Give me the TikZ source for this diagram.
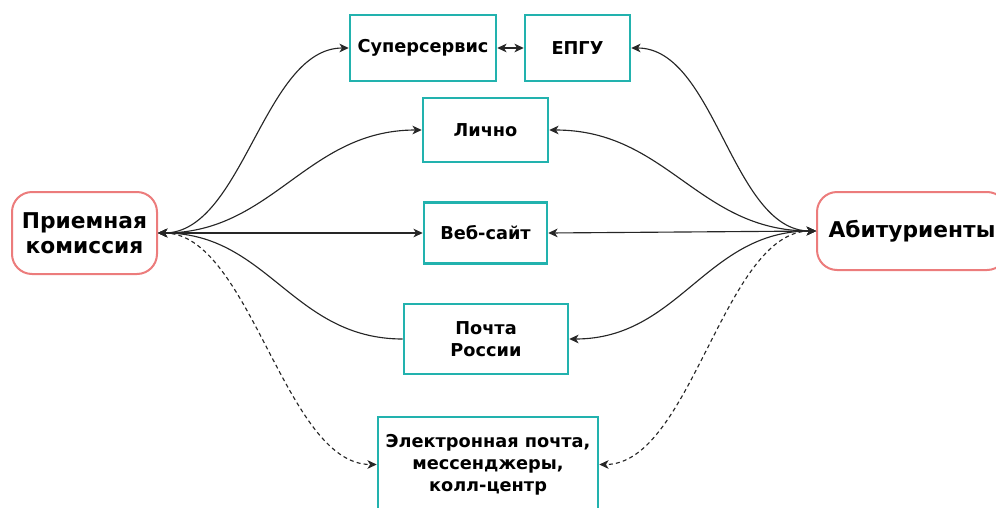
\documentclass[tikz,border=0pt]{standalone}
\usepackage{fontspec}
\setmainfont{DejaVu Sans}
\usetikzlibrary{arrows.meta}
\definecolor{tealbox}{RGB}{34,178,174}
\definecolor{redbox}{RGB}{236,124,124}
\tikzset{
  chan/.style={draw=tealbox, line width=1.9pt, fill=white, inner sep=0pt, align=center,
    font=\fontsize{13.3}{16.5}\selectfont\bfseries},
  actor/.style={draw=redbox, line width=1.5pt, rounded corners=15pt, fill=white, inner sep=0pt,
    align=center, font=\fontsize{16.3}{19}\selectfont\bfseries},
  conn/.style={line width=0.85pt, black!85},
  dsh/.style={conn, dash pattern=on 3pt off 2.4pt},
  >={Stealth[length=7pt,width=6.5pt,inset=2pt]}
}
\begin{document}
\begin{tikzpicture}[x=0.75pt,y=-0.75pt]
\useasboundingbox (0,0) rectangle (996,507);
\clip (0,0) rectangle (996,507);
\node[actor, minimum width=108.75pt, minimum height=61.5pt] (priem) at (84.5,233) {Приемная\\комиссия};
\node[actor, minimum width=142.5pt, minimum height=58.5pt] (abit) at (912,231) {Абитуриенты};
\node[chan, minimum width=109.5pt, minimum height=49.5pt] (super) at (423,48) {Суперсервис};
\node[chan, minimum width=78.75pt, minimum height=49.5pt] (epgu) at (577.5,48) {ЕПГУ};
\node[chan, minimum width=93.75pt, minimum height=48pt] (lichno) at (485.5,130) {Лично};
\node[chan, minimum width=92.25pt, minimum height=45.75pt] (veb) at (485.5,233) {Веб-сайт};
\node[chan, minimum width=123pt, minimum height=52.5pt] (pochta) at (486,339) {Почта\\России};
\node[chan, minimum width=165pt, minimum height=71.25pt] (elec) at (488,464.5) {Электронная почта,\\мессенджеры,\\колл-центр};

% left side
\draw[conn,<->] (priem.east) .. controls +(85,0) and +(-85,0) .. (super.west);
\draw[conn,<->] (priem.east) .. controls +(115,0) and +(-115,0) .. (lichno.west);
\draw[conn,<->] (priem.east) -- (veb.west);
\draw[conn,<-] (priem.east) .. controls +(110,0) and +(-110,0) .. (pochta.west);
\draw[dsh,<->] (priem.east) .. controls +(92,0) and +(-92,0) .. (elec.west);
% right side
\draw[conn,<->] (abit.west) .. controls +(-84,0) and +(84,0) .. (epgu.east);
\draw[conn,<->] (abit.west) .. controls +(-118,0) and +(118,0) .. (lichno.east);
\draw[conn,<->] (abit.west) -- (veb.east);
\draw[conn,<->] (abit.west) .. controls +(-110,0) and +(110,0) .. (pochta.east);
\draw[dsh,<->] (abit.west) .. controls +(-92,0) and +(92,0) .. (elec.east);
% between
\draw[conn,<->] (super.east) -- (epgu.west);
\end{tikzpicture}
\end{document}
